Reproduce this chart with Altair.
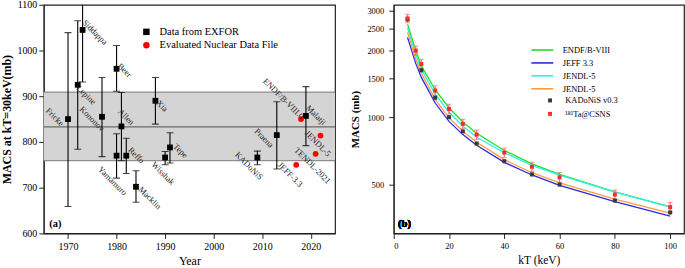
import altair as alt
import pandas as pd

FONT = "Liberation Serif"

# ---------------- Panel (a) data ----------------
exfor_names = ["Fricke", "Lepine", "Siddappa", "Kononov", "Beer", "Yamamuro", "Allen",
               "Reffo", "Macklin", "Xia", "Wisshak", "Tepe", "KADoNiS", "Praena", "Malatji"]
exfor_year = [1970, 1972, 1973, 1977, 1980, 1980, 1981, 1982, 1984, 1988, 1990, 1991, 2009, 2013, 2019]
exfor_macs = [850, 925, 1045, 855, 960, 770, 834, 770, 702, 890, 766, 788, 766, 815, 857]
exfor_lo = [659, 784, 931, 768, 911, 721, 759, 731, 668, 839, 750, 754, 750, 741, 792]
exfor_hi = [1039, 1065, 1160, 941, 1011, 818, 908, 808, 737, 941, 779, 820, 780, 888, 921]

eval_names = ["JEFF-3.3", "ENDF/B-VIII.0", "TENDL-2021", "JENDL-5"]
eval_year = [2017, 2018, 2021, 2022]
eval_macs = [750, 850, 774, 814]

band_lo = [759]
band_hi = [909]
band_mid = [833]

label_text = ["Fricke", "Lepine", "Siddappa", "Kononov", "Beer", "Allen", "Yamamuro", "Reffo",
              "Macklin", "Xia", "Wisshak", "Tepe", "KADoNiS", "Praena", "JEFF-3.3",
              "ENDF/B-VIII.0", "Malatji", "JENDL-5", "TENDL-2021"]
label_year = [1967.3, 1973.8, 1975.6, 1975.0, 1981.7, 1982.0, 1979.2, 1984.1,
              1986.9, 1989.4, 1989.6, 1993.2, 2007.3, 2010.4, 2015.8,
              2014.4, 2021.1, 2021.5, 2020.4]
label_macs = [855, 903, 1040, 851, 957, 855, 715, 771,
              678, 879, 732, 781, 748, 809, 729,
              895, 859, 797, 749]

legend_a = ["Data from EXFOR", "Evaluated Nuclear Data File"]

# ---------------- Panel (b) data ----------------
kt_lines = [5, 8, 10, 15, 20, 25, 30, 40, 50, 60, 80, 100]
endf = [2610, 1990, 1700, 1330, 1105, 955, 850, 712, 620, 556, 465, 398]
jeff = [2280, 1740, 1510, 1160, 960, 838, 751, 630, 553, 497, 420, 362]
jendl = [2510, 1900, 1640, 1270, 1055, 915, 815, 695, 610, 552, 463, 398]
tendl = [2400, 1820, 1575, 1205, 995, 868, 775, 648, 566, 510, 431, 373]
series_names = ["ENDF/B-VIII", "JEFF 3.3", "JENDL-5", "JENDL-5 "]
series_colors = ["#22e022", "#2b2bdc", "#2ef0f0", "#ff9c40"]

kt_kad = [5, 10, 15, 20, 25, 30, 40, 50, 60, 80, 100]
kad = [2740, 1625, 1225, 1003, 866, 764, 637, 556, 501, 425, 376]
kad_err = [55, 33, 25, 20, 17, 15, 13, 11, 10, 9, 8]

kt_csns = [5, 8, 10, 15, 20, 25, 30, 40, 50, 60, 80, 100]
csns = [2770, 1990, 1733, 1319, 1091, 936, 838, 696, 602, 540, 452, 397]
csns_err = [120, 95, 85, 65, 55, 45, 40, 33, 29, 27, 22, 20]

legend_b_pts = ["KADoNiS v0.3", "\u00b9\u2078\u00b9Ta@CSNS"]

# ---------------- Panel (a) chart ----------------
df_ex = pd.DataFrame({"year": exfor_year, "macs": exfor_macs, "lo": exfor_lo,
                      "hi": exfor_hi, "name": exfor_names})
df_pts = pd.concat([
    pd.DataFrame({"year": exfor_year, "macs": exfor_macs, "source": legend_a[0]}),
    pd.DataFrame({"year": eval_year, "macs": eval_macs, "source": legend_a[1]}),
])
df_band = pd.DataFrame({"lo": band_lo, "hi": band_hi, "mid": band_mid})
df_lab = pd.DataFrame({"year": label_year, "macs": label_macs, "text": label_text})

xs_a = alt.Scale(domain=[1965, 2025], nice=False, zero=False)
ys_a = alt.Scale(domain=[600, 1100], nice=False, zero=False)
x_a = alt.X("year:Q", scale=xs_a, axis=alt.Axis(
    title="Year", values=[1970, 1980, 1990, 2000, 2010, 2020], format="d",
    labelFontSize=10, titleFontSize=12, titleFontWeight="normal", titlePadding=4,
    labelPadding=3, tickSize=5))
y_a = alt.Y("macs:Q", scale=ys_a, axis=alt.Axis(
    title="MACS at kT=30keV(mb)", values=[600, 700, 800, 900, 1000, 1100], format="d",
    labelFontSize=10, titleFontSize=12, titleFontWeight="bold", titlePadding=3,
    labelPadding=2, tickSize=5))

band = alt.Chart(df_band).mark_rect(color="#d4d4d4").encode(
    y=alt.Y("lo:Q", scale=ys_a), y2="hi:Q")
band_lines = alt.layer(
    alt.Chart(df_band).mark_rule(color="#7a7a7a", strokeWidth=1).encode(y=alt.Y("lo:Q", scale=ys_a)),
    alt.Chart(df_band).mark_rule(color="#7a7a7a", strokeWidth=1).encode(y=alt.Y("hi:Q", scale=ys_a)),
    alt.Chart(df_band).mark_rule(color="#6a6a6a", strokeWidth=1.2).encode(y=alt.Y("mid:Q", scale=ys_a)),
)
err_a = alt.Chart(df_ex).mark_rule(color="black", strokeWidth=1.1, clip=True).encode(
    x=x_a, y=alt.Y("lo:Q", scale=ys_a), y2="hi:Q")
cap_lo = alt.Chart(df_ex).mark_tick(orient="horizontal", size=7, thickness=1.1,
                                    color="black", clip=True).encode(
    x=alt.X("year:Q", scale=xs_a), y=alt.Y("lo:Q", scale=ys_a))
cap_hi = alt.Chart(df_ex).mark_tick(orient="horizontal", size=7, thickness=1.1,
                                    color="black", clip=True).encode(
    x=alt.X("year:Q", scale=xs_a), y=alt.Y("hi:Q", scale=ys_a))

leg_a = alt.Legend(title=None, orient="none", legendX=98, legendY=22, padding=0,
                   labelFont=FONT, labelFontSize=10.5, labelColor="black",
                   symbolSize=42, rowPadding=2.5, labelOffset=8)
pts_a = alt.Chart(df_pts).mark_point(filled=True, size=34, opacity=1).encode(
    x=alt.X("year:Q", scale=xs_a),
    y=alt.Y("macs:Q", scale=ys_a),
    color=alt.Color("source:N", scale=alt.Scale(domain=legend_a, range=["black", "#ff0000"]), legend=leg_a),
    shape=alt.Shape("source:N", scale=alt.Scale(domain=legend_a, range=["square", "circle"]), legend=leg_a),
)
labels_a = alt.Chart(df_lab).mark_text(angle=45, font=FONT, fontSize=8.5, color="#222222",
                                       align="center", baseline="middle").encode(
    x=alt.X("year:Q", scale=xs_a), y=alt.Y("macs:Q", scale=ys_a), text="text:N")
tag_a = alt.Chart(df_band).mark_text(font=FONT, fontSize=10.5, fontWeight="bold",
                                     color="black").encode(
    x=alt.datum(1967.4), y=alt.datum(621), text=alt.value("(a)"))

axis_a = alt.Chart(df_ex).mark_point(opacity=0).encode(x=x_a, y=y_a)

panel_a = alt.layer(axis_a, band, band_lines, err_a, cap_lo, cap_hi, pts_a, labels_a, tag_a).properties(
    width=293, height=230)

# ---------------- Panel (b) chart ----------------
rows = []
for name, vals in zip(series_names, [endf, jeff, jendl, tendl]):
    for k, v in zip(kt_lines, vals):
        rows.append({"kt": k, "macs": v, "series": name})
df_lines = pd.DataFrame(rows)

df_kad = pd.DataFrame({"kt": kt_kad, "macs": kad, "lo": [v - e for v, e in zip(kad, kad_err)],
                       "hi": [v + e for v, e in zip(kad, kad_err)], "source": legend_b_pts[0]})
df_csns = pd.DataFrame({"kt": kt_csns, "macs": csns, "lo": [v - e for v, e in zip(csns, csns_err)],
                        "hi": [v + e for v, e in zip(csns, csns_err)], "source": legend_b_pts[1]})
df_bpts = pd.concat([df_kad, df_csns])

xs_b = alt.Scale(domain=[0, 105], nice=False, zero=False)
ys_b = alt.Scale(type="log", domain=[303, 3190], nice=False)
x_b = alt.X("kt:Q", scale=xs_b, axis=alt.Axis(
    title="kT (keV)", values=list(range(0, 101, 10)), labelFontSize=8.5,
    titleFontSize=11.5, titleFontWeight="normal", titlePadding=5, labelPadding=3, tickSize=5))
y_b = alt.Y("macs:Q", scale=ys_b, axis=alt.Axis(
    title="MACS (mb)", values=[500, 1000, 1500, 2000, 2500, 3000], format="d",
    labelFontSize=8.5, titleFontSize=11, titleFontWeight="bold", titlePadding=6,
    labelPadding=5, tickSize=5))

lines_b = alt.Chart(df_lines).mark_line(strokeWidth=1.3).encode(
    x=x_b, y=y_b,
    color=alt.Color("series:N", sort=series_names,
                    scale=alt.Scale(domain=series_names, range=series_colors),
                    legend=alt.Legend(title=None, orient="none", legendX=143, legendY=39,
                                      padding=0, symbolType="M-2,0H2", symbolSize=121,
                                      symbolStrokeWidth=1.6, labelFont=FONT, labelFontSize=8.5,
                                      labelColor="black", rowPadding=2, labelOffset=14)),
    detail="series:N",
)
err_kad = alt.Chart(df_kad).mark_rule(color="#8a8a8a", strokeWidth=1.2).encode(
    x=alt.X("kt:Q", scale=xs_b), y=alt.Y("lo:Q", scale=ys_b), y2="hi:Q")
err_csns = alt.Chart(df_csns).mark_rule(color="#ff6a6a", strokeWidth=1.1).encode(
    x=alt.X("kt:Q", scale=xs_b), y=alt.Y("lo:Q", scale=ys_b), y2="hi:Q")
cap_csns_lo = alt.Chart(df_csns).mark_tick(orient="horizontal", size=5, thickness=1,
                                           color="#ff6a6a").encode(
    x=alt.X("kt:Q", scale=xs_b), y=alt.Y("lo:Q", scale=ys_b))
cap_csns_hi = alt.Chart(df_csns).mark_tick(orient="horizontal", size=5, thickness=1,
                                           color="#ff6a6a").encode(
    x=alt.X("kt:Q", scale=xs_b), y=alt.Y("hi:Q", scale=ys_b))
pts_b = alt.Chart(df_bpts).mark_square(size=16, opacity=1).encode(
    x=alt.X("kt:Q", scale=xs_b), y=alt.Y("macs:Q", scale=ys_b),
    color=alt.Color("source:N", scale=alt.Scale(domain=legend_b_pts, range=["#3a3a3a", "#ff2a2a"]),
                    legend=alt.Legend(title=None, orient="none", legendX=153, legendY=92,
                                      padding=0, symbolType="square", symbolSize=16,
                                      labelFont=FONT, labelFontSize=8.5, labelColor="black",
                                      rowPadding=4.5, labelOffset=11)),
)
tag_b = alt.Chart(df_kad).mark_text(font=FONT, fontSize=10.5, fontWeight="bold",
                                    color="black").encode(
    x=alt.datum(3.9), y=alt.datum(334), text=alt.value("(b)"))

panel_b = alt.layer(lines_b, err_kad, err_csns, cap_csns_lo, cap_csns_hi, pts_b, tag_b).resolve_scale(
    color="independent").properties(width=292, height=230)

chart = alt.hconcat(panel_a, panel_b, spacing=12).properties(
    padding={"left": 0, "top": -2, "right": 0, "bottom": 0}
).configure_view(stroke="#222222", strokeWidth=1.2).configure_axis(
    labelFont=FONT, titleFont=FONT, labelColor="black", titleColor="black",
    domainColor="#222222", tickColor="#222222", grid=False
).configure_legend(labelLimit=300)

chart.save("out.html", embed_options={"renderer": "svg", "actions": False})
